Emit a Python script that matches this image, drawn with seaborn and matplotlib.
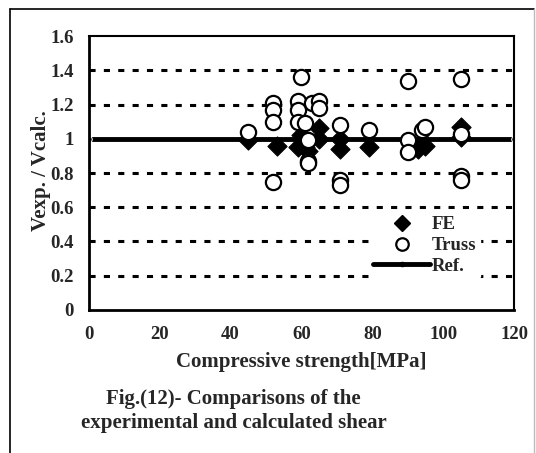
import numpy as np
import pandas as pd
import matplotlib
matplotlib.use('Agg')
import matplotlib.pyplot as plt
from matplotlib.lines import Line2D
import seaborn as sns

# 数据
fe_x = [45, 53, 59, 60, 61, 62, 65, 65, 71, 71, 79, 93, 95, 105, 105]
fe_y = [0.99, 0.96, 0.95, 1.02, 0.95, 0.93, 1.06, 1.00, 0.94, 1.00, 0.95, 0.94, 0.96, 1.07, 1.01]

truss_x = [45, 52, 52, 52, 52, 59, 59, 59, 60, 61, 62, 62, 62, 63, 65, 65,
           71, 71, 71, 79, 90, 90, 90, 94, 95, 105, 105, 105, 105]
truss_y = [1.04, 1.21, 1.17, 1.10, 0.75, 1.22, 1.17, 1.10, 1.36, 1.09, 0.99, 0.87, 0.86, 1.21, 1.22, 1.18,
           1.08, 0.76, 0.73, 1.05, 1.34, 0.99, 0.92, 1.05, 1.07, 1.35, 1.03, 0.78, 0.76]

ref_x = [0, 120]
ref_y = [1, 1]

x_ticks = [0, 20, 40, 60, 80, 100, 120]
y_ticks = [0, 0.2, 0.4, 0.6, 0.8, 1, 1.2, 1.4, 1.6]
y_labels = ['0', '0.2', '0.4', '0.6', '0.8', '1', '1.2', '1.4', '1.6']

sns.set_style('white')
plt.rcParams['font.family'] = ['Liberation Serif', 'DejaVu Serif']
plt.rcParams['font.weight'] = 'bold'

df_fe = pd.DataFrame({'x': fe_x, 'y': fe_y})
df_truss = pd.DataFrame({'x': truss_x, 'y': truss_y})
df_ref = pd.DataFrame({'x': ref_x, 'y': ref_y})

fig = plt.figure(figsize=(5.36, 4.53), dpi=100)
ax = fig.add_axes([0.1655, 0.3157, 0.7935, 0.6048])

# 虚线网格
for yv in y_ticks[1:-1]:
    if yv == 1:
        continue
    ax.axhline(yv, color='black', lw=2.2, ls=(0, (2.0, 2.7)), zorder=1)

sns.lineplot(data=df_ref, x='x', y='y', ax=ax, color='black', lw=3.5,
             marker='o', markersize=4, zorder=2, legend=False)
sns.scatterplot(data=df_fe, x='x', y='y', ax=ax, marker='D', s=95, color='black',
                edgecolor='black', zorder=3, legend=False)
sns.scatterplot(data=df_truss, x='x', y='y', ax=ax, marker='o', s=120, facecolor='white',
                edgecolor='black', linewidth=1.6, zorder=4, legend=False)

ax.set_xlim(0, 120)
ax.set_ylim(0, 1.6)
ax.set_xticks(x_ticks)
ax.set_yticks(y_ticks)
ax.set_yticklabels(y_labels)
ax.tick_params(direction='inout', length=7, width=1.5, labelsize=13.5)
ax.tick_params(axis='x', pad=8)
ax.tick_params(axis='y', pad=7)
for s in ax.spines.values():
    s.set_linewidth(1.5)
    s.set_color('black')
ax.spines['left'].set_linewidth(2)
ax.spines['bottom'].set_linewidth(2)

ax.set_xlabel('Compressive strength[MPa]', fontsize=15, fontweight='bold')
ax.set_ylabel('Vexp. / Vcalc.', fontsize=15, fontweight='bold')
ax.xaxis.set_label_coords(0.5, -0.155)
ax.yaxis.set_label_coords(-0.088, 0.51)

handles = [
    Line2D([], [], marker='D', color='black', ls='none', markersize=8),
    Line2D([], [], marker='o', markerfacecolor='white', markeredgecolor='black',
           markeredgewidth=1.6, ls='none', markersize=9),
    Line2D([], [], color='black', lw=3.5, marker='o', markersize=3),
]
leg = ax.legend(handles, ['FE', 'Truss', 'Ref.'], loc='lower right',
                bbox_to_anchor=(0.942, 0.08), frameon=True, fontsize=13.5,
                handlelength=3.0, handletextpad=0.1, labelspacing=0.2,
                borderpad=0.2)
leg.get_frame().set_facecolor('white')
leg.get_frame().set_edgecolor('white')
leg.get_frame().set_alpha(1)
leg.set_zorder(5)

fig.text(0.435, 0.119, 'Fig.(12)- Comparisons of the', ha='center', va='center',
         fontsize=15, fontweight='bold')
fig.text(0.437, 0.066, 'experimental and calculated shear', ha='center', va='center',
         fontsize=15, fontweight='bold')

# 外框
fig.add_artist(Line2D([0.019, 0.019], [0, 0.98], transform=fig.transFigure, color='black', lw=1.2))
fig.add_artist(Line2D([0.019, 0.997], [0.98, 0.98], transform=fig.transFigure, color='black', lw=1.2))
fig.add_artist(Line2D([0.997, 0.997], [0, 0.98], transform=fig.transFigure, color='#bbbbbb', lw=1))

plt.savefig('out.png', dpi=100)
plt.close()
